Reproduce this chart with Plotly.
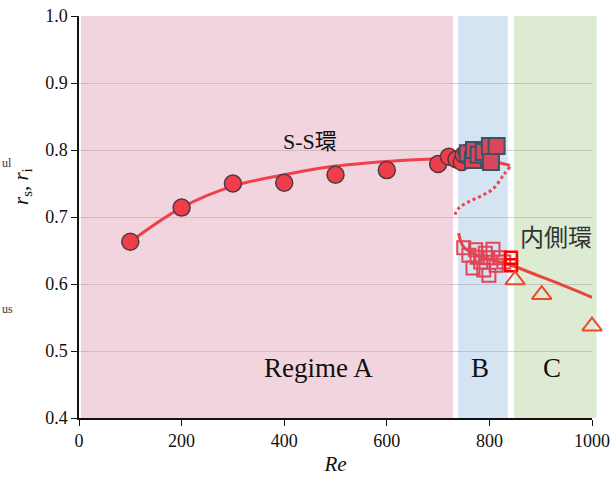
import plotly.graph_objects as go

# ---- data ----
ss_curve_re = [100, 200, 300, 400, 500, 600, 700, 750, 800, 840]
ss_curve_r = [0.663, 0.714, 0.746, 0.763, 0.776, 0.783, 0.787, 0.787, 0.784, 0.777]

dot_curve_re = [840, 828, 807, 783, 758, 740, 731]
dot_curve_r = [0.775, 0.763, 0.742, 0.731, 0.722, 0.713, 0.700]

in_curve_re = [740, 744, 750, 770, 800, 842, 900, 950, 1000]
in_curve_r = [0.676, 0.664, 0.655, 0.645, 0.637, 0.628, 0.611, 0.596, 0.580]

circ_re = [100, 200, 300, 400, 500, 600, 700, 721, 736, 746, 750, 756]
circ_r = [0.663, 0.714, 0.750, 0.751, 0.763, 0.770, 0.779, 0.790, 0.786, 0.782, 0.793, 0.796]

sq_re = [758, 768, 770, 779, 789, 803, 801, 814]
sq_r = [0.795, 0.785, 0.800, 0.793, 0.797, 0.782, 0.806, 0.806]

osq_re = [750, 760, 773, 768, 783, 789, 797, 807, 813, 820, 799, 828, 776, 792]
osq_r = [0.654, 0.643, 0.651, 0.624, 0.633, 0.621, 0.639, 0.652, 0.628, 0.639, 0.613, 0.633, 0.640, 0.646]

rsq_re = [842, 842]
rsq_r = [0.639, 0.628]

tri_re = [850, 902, 1000]
tri_r = [0.606, 0.584, 0.537]

x_ticks = [0, 200, 400, 600, 800, 1000]
y_ticks = [0.4, 0.5, 0.6, 0.7, 0.8, 0.9, 1.0]

SERIF = "Liberation Serif, serif"
CJK = "Noto Sans CJK JP"

W, H = 610, 477
L, R, T, B = 79, 18, 16, 59
pw, ph = W - L - R, H - T - B

fig = go.Figure()

# regime shading
fig.add_shape(type="rect", xref="x", yref="y", x0=4, x1=729, y0=0.4, y1=1.0,
              fillcolor="#f2d4de", line_width=0, layer="below")
fig.add_shape(type="rect", xref="x", yref="y", x0=739, x1=836, y0=0.4, y1=1.0,
              fillcolor="#d5e4f3", line_width=0, layer="below")
fig.add_shape(type="rect", xref="paper", yref="y", x0=848 / 1000, x1=1.009, y0=0.4, y1=1.0,
              fillcolor="#ddebd3", line_width=0, layer="below")

RED = "#f0404a"

fig.add_trace(go.Scatter(x=ss_curve_re, y=ss_curve_r, mode="lines",
                         line=dict(color=RED, width=3, shape="spline"), hoverinfo="skip"))
fig.add_trace(go.Scatter(x=dot_curve_re, y=dot_curve_r, mode="lines",
                         line=dict(color=RED, width=3, dash="dot", shape="spline"), hoverinfo="skip"))
fig.add_trace(go.Scatter(x=in_curve_re, y=in_curve_r, mode="lines",
                         line=dict(color="#e8453c", width=3, shape="spline"), hoverinfo="skip"))

fig.add_trace(go.Scatter(x=circ_re, y=circ_r, mode="markers",
                         marker=dict(symbol="circle", size=17, color="#ee3d4b",
                                     line=dict(color="#4d3a42", width=1.5))))
fig.add_trace(go.Scatter(x=sq_re, y=sq_r, mode="markers",
                         marker=dict(symbol="square", size=16, color="#d9475a",
                                     line=dict(color="#3e5266", width=2))))
fig.add_trace(go.Scatter(x=osq_re, y=osq_r, mode="markers",
                         marker=dict(symbol="square-open", size=13, color="#e04558",
                                     line=dict(width=2))))
fig.add_trace(go.Scatter(x=rsq_re, y=rsq_r, mode="markers",
                         marker=dict(symbol="square-open", size=12, color="#ff0000",
                                     line=dict(width=2.5))))
fig.add_trace(go.Scatter(x=tri_re, y=tri_r, mode="markers", cliponaxis=False,
                         marker=dict(symbol="triangle-up-open", size=17, color="#ea4a30",
                                     line=dict(width=2))))

ann = [
    dict(x=450, y=0.816, text="S-S<span style=\"font-family:'Noto Sans CJK JP'\">環</span>", size=22, color="#111111"),
    dict(x=930, y=0.673, text="内側環", size=24, color="#333333", family=CJK),
    dict(x=467, y=0.474, text="Regime A", size=27, color="#111111"),
    dict(x=781, y=0.474, text="B", size=27, color="#111111"),
    dict(x=922, y=0.474, text="C", size=27, color="#111111"),
]
for a in ann:
    fig.add_annotation(x=a["x"], y=a["y"], xref="x", yref="y", text=a["text"], showarrow=False,
                       font=dict(family=a.get("family", SERIF), size=a["size"], color=a["color"]))

# y-axis title
fig.add_annotation(x=(22 - L) / pw, y=(H - B - 187) / ph, xref="paper", yref="paper",
                   xanchor="center", yanchor="middle",
                   text="<i>r</i><sub>s</sub>, <i>r</i><sub>i</sub>",
                   showarrow=False, textangle=-90, font=dict(family=SERIF, size=21, color="#111111"))

# cut-off side texts
for txt, py in [("ul", 163), ("us", 309)]:
    fig.add_annotation(x=(7 - L) / pw, y=(H - B - py) / ph, xref="paper", yref="paper", text=txt,
                       xanchor="center", yanchor="middle",
                       showarrow=False, font=dict(family=SERIF, size=12, color="#333333"))

fig.update_layout(
    width=W, height=H,
    margin=dict(l=L, r=R, t=T, b=B, autoexpand=False),
    paper_bgcolor="white", plot_bgcolor="white",
    showlegend=False,
    xaxis=dict(range=[0, 1000], tickvals=x_ticks, ticks="outside", ticklen=6, tickcolor="#111",
               automargin=False,
               showline=True, linecolor="#111", linewidth=1.5, showgrid=False, zeroline=False,
               tickfont=dict(family=SERIF, size=18, color="#111"),
               title=dict(text="<i>Re</i>", font=dict(family=SERIF, size=21, color="#111"), standoff=6)),
    yaxis=dict(range=[0.4, 1.0], tickvals=y_ticks, tickformat=".1f", ticks="outside", ticklen=6,
               automargin=False,
               tickcolor="#111", showline=True, linecolor="#111", linewidth=1.5,
               showgrid=True, gridcolor="rgba(175,170,172,0.55)", gridwidth=1, zeroline=False,
               tickfont=dict(family=SERIF, size=18, color="#111")),
)

fig.write_html("out.html")
